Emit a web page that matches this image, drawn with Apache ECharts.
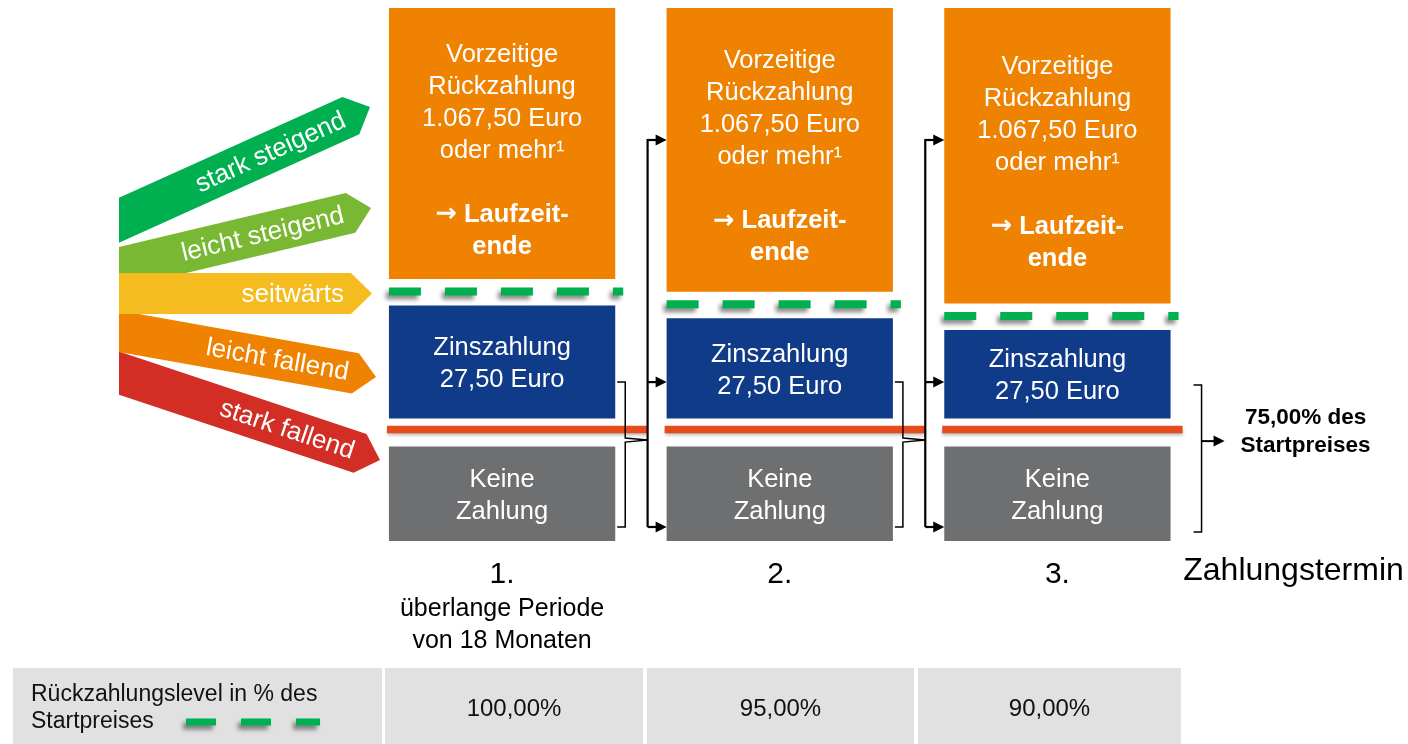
<!DOCTYPE html>
<html>
<head>
<meta charset="utf-8">
<script src="https://cdn.jsdelivr.net/npm/echarts@6/dist/echarts.min.js"></script>
<style>html,body{margin:0;padding:0;background:#fff}#c{width:1408px;height:744px}</style>
</head>
<body>
<div id="c"></div>
<script>
// ---------------- data ----------------
const paymentDates = ['1.', '2.', '3.'];
const dateNotes = ['überlange Periode\nvon 18 Monaten', '', ''];
const redemptionLevelLabels = ['100,00%', '95,00%', '90,00%'];
// schematic heights (diagram scale 0..100) of the redemption level lines and the 75% barrier
const levelPos = [46.8, 44.4, 42.2];
const barrierPos = 20.9;
const barrierLabel = '75,00% des\nStartpreises';
const earlyRedemptionLines = ['Vorzeitige', 'Rückzahlung', '1.067,50 Euro', 'oder mehr¹'];
const maturityLines = ['{arr|→} Laufzeit-', 'ende'];
const couponLines = ['Zinszahlung', '27,50 Euro'];
const noPaymentLines = ['Keine', 'Zahlung'];
const trendLabels = ['stark steigend', 'leicht steigend', 'seitwärts', 'leicht fallend', 'stark fallend'];
const tableLabel = 'Rückzahlungslevel in % des\nStartpreises';
const axisTitle = 'Zahlungstermin';

// ---------------- styles / layout ----------------
const FONT = "'Liberation Sans', Arial, Helvetica, sans-serif";
const C = {
  orange: '#EF8200', blue: '#0F3B88', grey: '#6E6F71', green: '#00B050',
  red: '#E54B1B', table: '#E1E1E1'
};
const trendColors = ['#00B050', '#78B833', '#F4BC1F', '#EF8200', '#D22E26'];
const trendAngles = [24.3, 13.4, 0, -10.1, -18.4];
const trendTips = [[370, 107], [371, 208], [372, 293.5], [376, 377], [380, 460]];
const BAND = { leftX: 119, width: 41, head: 21, textBack: 28 };

const chart = echarts.init(document.getElementById('c'));

function colGeom(api) {
  const xv = api.value(0);
  const base = api.coord([xv, 0]);
  const band = api.size([1, 0])[0];
  const w = band * 0.815;
  const x0 = base[0] - w / 2;
  return {
    xv, band, w, x0, x1: x0 + w, cx: base[0],
    yTop: api.coord([xv, 100])[1],
    yLevel: api.coord([xv, api.value(1)])[1],
    yBar: api.coord([xv, api.value(2)])[1],
    yBot: base[1]
  };
}

function textEl(x, y, text, opt) {
  opt = opt || {};
  const size = opt.size || 25;
  const color = opt.color || '#fff';
  const lh = opt.lh || 32;
  return {
    type: 'text', x: x, y: y,
    style: {
      text: text, fill: color, fontSize: size, fontFamily: FONT,
      fontWeight: opt.weight || 'normal', lineHeight: lh,
      align: opt.align || 'center', verticalAlign: 'middle',
      textAlign: opt.align || 'center', textVerticalAlign: 'middle',
      rich: {
        b: { fontSize: size, fontFamily: FONT, fontWeight: 'bold', fill: color, color: color, lineHeight: lh },
        arr: { fontSize: size, fontFamily: "'DejaVu Sans'", fontWeight: 'bold', fill: color, color: color, lineHeight: lh }
      }
    }
  };
}

function renderBoxes(params, api) {
  const g = colGeom(api);
  const oB = g.yLevel - 12.5, bT = g.yLevel + 14, bB = g.yBar - 11, gT = g.yBar + 17;
  const orangeText = earlyRedemptionLines.join('\n') + '\n\u00a0\n' +
    maturityLines.map(t => t.indexOf('{arr|') === 0 ? t.replace('} ', '}{b| ') + '}' : '{b|' + t + '}').join('\n');
  return {
    type: 'group',
    children: [
      { type: 'rect', shape: { x: g.x0, y: g.yTop, width: g.w, height: oB - g.yTop }, style: { fill: C.orange } },
      { type: 'rect', shape: { x: g.x0, y: bT, width: g.w, height: bB - bT }, style: { fill: C.blue } },
      { type: 'rect', shape: { x: g.x0, y: gT, width: g.w, height: g.yBot - gT }, style: { fill: C.grey } },
      textEl(g.cx, (g.yTop + oB) / 2 + 7, orangeText, { size: 25.5 }),
      textEl(g.cx, (bT + bB) / 2 + 2, couponLines.join('\n'), { size: 25.5 }),
      textEl(g.cx, (gT + g.yBot) / 2 + 2, noPaymentLines.join('\n'), { size: 25.5 })
    ]
  };
}

function renderLevel(params, api) {
  const g = colGeom(api);
  return {
    type: 'line',
    shape: { x1: g.x0, y1: g.yLevel, x2: g.x1 + 8, y2: g.yLevel },
    style: {
      stroke: C.green, lineWidth: 8, lineDash: [32, 24], lineCap: 'butt',
      shadowColor: 'rgba(0,0,0,0.45)', shadowBlur: 4, shadowOffsetX: -3, shadowOffsetY: 4
    }
  };
}

function renderBarrier(params, api) {
  const g = colGeom(api);
  const isLast = params.dataIndex === paymentDates.length - 1;
  const end = isLast ? g.x1 + 12 : g.x0 + g.band - 19;
  return {
    type: 'line',
    shape: { x1: g.x0 - 2, y1: g.yBar, x2: end, y2: g.yBar },
    style: {
      stroke: C.red, lineWidth: 7.5, lineCap: 'butt',
      shadowColor: 'rgba(0,0,0,0.25)', shadowBlur: 3, shadowOffsetY: 3
    }
  };
}

function seg(x1, y1, x2, y2, lw) {
  return { type: 'line', shape: { x1, y1, x2, y2 }, style: { stroke: '#000', lineWidth: lw } };
}
function head(tipX, y) {
  return { type: 'polygon', shape: { points: [[tipX, y], [tipX - 11, y - 5.5], [tipX - 11, y + 5.5]] }, style: { fill: '#000' } };
}
function brace(tx, spine, nubX, top, nub, bot) {
  return [
    { type: 'polyline', shape: { points: [[tx, top], [spine, top], [spine, nub - 2], [nubX, nub]] }, style: { stroke: '#000', lineWidth: 1.5, fill: null } },
    { type: 'polyline', shape: { points: [[nubX, nub], [spine, nub + 2], [spine, bot], [tx, bot]] }, style: { stroke: '#000', lineWidth: 1.5, fill: null } }
  ];
}

function renderFlow(params, api) {
  const g = colGeom(api);
  const ch = [];
  const isLast = params.dataIndex === paymentDates.length - 1;
  if (!isLast) {
    const nextLeft = g.x0 + g.band;
    const sx = nextLeft - 19;
    const ys = [g.yTop + 132, g.yBar - 47.5, g.yBot - 14];
    ch.push(seg(sx, ys[0] - 1, sx, ys[2], 2.2));
    ys.forEach(y => { ch.push(seg(sx, y, nextLeft - 10, y, 2.2)); ch.push(head(nextLeft, y)); });
    brace(g.x1 + 2, g.x1 + 10, sx, ys[1], g.yBar + 10.5, ys[2]).forEach(e => ch.push(e));
  } else {
    const spine = g.x1 + 31, nub = g.yBar + 11.5, tip = g.x1 + 54;
    brace(g.x1 + 23, spine, spine, g.yBar - 44.5, nub, g.yBot - 9).forEach(e => ch.push(e));
    ch.push(seg(spine, nub, tip - 10, nub, 2));
    ch.push(head(tip, nub));
    ch.push(textEl(g.x1 + 135, g.yBar + 2.5, barrierLabel, { size: 22.5, weight: 'bold', color: '#000', lh: 28 }));
  }
  return { type: 'group', children: ch };
}

const colData = paymentDates.map((d, i) => [i + 1, levelPos[i], barrierPos]);

// ---------------- decorative graphics (trend arrows, table) ----------------
function bandPolygon(tip, angDeg) {
  const a = angDeg * Math.PI / 180;
  const d = [Math.cos(a), -Math.sin(a)];
  const n = [Math.sin(a), Math.cos(a)];
  const hw = BAND.width / 2, h = BAND.head;
  const s1 = [tip[0] - d[0] * h - n[0] * hw, tip[1] - d[1] * h - n[1] * hw];
  const s2 = [tip[0] - d[0] * h + n[0] * hw, tip[1] - d[1] * h + n[1] * hw];
  const l1 = [BAND.leftX, s1[1] + d[1] * (BAND.leftX - s1[0]) / d[0]];
  const l2 = [BAND.leftX, s2[1] + d[1] * (BAND.leftX - s2[0]) / d[0]];
  return { points: [l1, s1, tip, s2, l2], a: a, d: d };
}

const graphics = [];
const drawOrder = [0, 1, 4, 3, 2];
drawOrder.forEach((i, k) => {
  const p = bandPolygon(trendTips[i], trendAngles[i]);
  graphics.push({ type: 'polygon', z: 10 + k * 2, shape: { points: p.points }, style: { fill: trendColors[i] } });
  const tip = trendTips[i];
  graphics.push({
    type: 'text', z: 11 + k * 2,
    x: tip[0] - p.d[0] * BAND.textBack, y: tip[1] - p.d[1] * BAND.textBack + 1,
    rotation: p.a,
    style: { text: trendLabels[i], fill: '#fff', font: '26px ' + FONT, textAlign: 'right', textVerticalAlign: 'middle' }
  });
});

// table
const TABLE = { top: 668, bottom: 744, label: [13, 382], cells: [[385, 643], [647, 914], [918, 1181]] };
graphics.push({ type: 'rect', z: 5, shape: { x: TABLE.label[0], y: TABLE.top, width: TABLE.label[1] - TABLE.label[0], height: TABLE.bottom - TABLE.top }, style: { fill: C.table } });
graphics.push({ type: 'text', z: 6, x: 31, y: 708, style: { text: tableLabel, fill: '#111', font: '23px ' + FONT, lineHeight: 27, textAlign: 'left', textVerticalAlign: 'middle' } });
graphics.push({ type: 'line', z: 6, shape: { x1: 186, y1: 722, x2: 320, y2: 722 }, style: { stroke: C.green, lineWidth: 7, lineDash: [30, 25], shadowColor: 'rgba(0,0,0,0.45)', shadowBlur: 4, shadowOffsetX: -3, shadowOffsetY: 4 } });
TABLE.cells.forEach((c, i) => {
  graphics.push({ type: 'rect', z: 5, shape: { x: c[0], y: TABLE.top, width: c[1] - c[0], height: TABLE.bottom - TABLE.top }, style: { fill: C.table } });
  graphics.push({ type: 'text', z: 6, x: (c[0] + c[1]) / 2, y: 709, style: { text: redemptionLevelLabels[i], fill: '#111', font: '24px ' + FONT, textAlign: 'center', textVerticalAlign: 'middle' } });
});

const option = {
  animation: false,
  backgroundColor: '#fff',
  textStyle: { fontFamily: FONT },
  grid: { left: 363.25, right: 211.75, top: 8, bottom: 203, outerBoundsMode: 'none', containLabel: false },
  xAxis: [
    {
      type: 'category', data: paymentDates, position: 'bottom',
      axisLine: { show: false }, axisTick: { show: false }, splitLine: { show: false },
      axisLabel: {
        margin: 16, interval: 0,
        formatter: function (v, i) {
          let s = '{a|' + v + '}';
          if (dateNotes[i]) s += '\n' + dateNotes[i].split('\n').map(t => '{b|' + t + '}').join('\n');
          return s;
        },
        rich: {
          a: { fontSize: 30, lineHeight: 36, color: '#000', fontFamily: FONT },
          b: { fontSize: 25, lineHeight: 32, color: '#000', fontFamily: FONT }
        }
      },
      name: axisTitle, nameLocation: 'end', nameGap: -13,
      nameTextStyle: { fontSize: 32, color: '#000', fontFamily: FONT, align: 'left', verticalAlign: 'top', padding: [14, 0, 0, 0] }
    },
    { type: 'value', min: 0.5, max: 3.5, show: false }
  ],
  yAxis: { type: 'value', min: 0, max: 100, show: false },
  series: [
    { type: 'custom', name: 'Auszahlung', xAxisIndex: 1, yAxisIndex: 0, silent: true, clip: false, z: 2, renderItem: renderBoxes, data: colData, encode: { x: 0, y: 1 } },
    { type: 'custom', name: 'Barriere', xAxisIndex: 1, yAxisIndex: 0, silent: true, clip: false, z: 3, renderItem: renderBarrier, data: colData, encode: { x: 0, y: 2 } },
    { type: 'custom', name: 'Rückzahlungslevel', xAxisIndex: 1, yAxisIndex: 0, silent: true, clip: false, z: 4, renderItem: renderLevel, data: colData, encode: { x: 0, y: 1 } },
    { type: 'custom', name: 'Ablauf', xAxisIndex: 1, yAxisIndex: 0, silent: true, clip: false, z: 5, renderItem: renderFlow, data: colData, encode: { x: 0, y: 1 } }
  ],
  graphic: graphics
};
chart.setOption(option);
</script>
</body>
</html>
